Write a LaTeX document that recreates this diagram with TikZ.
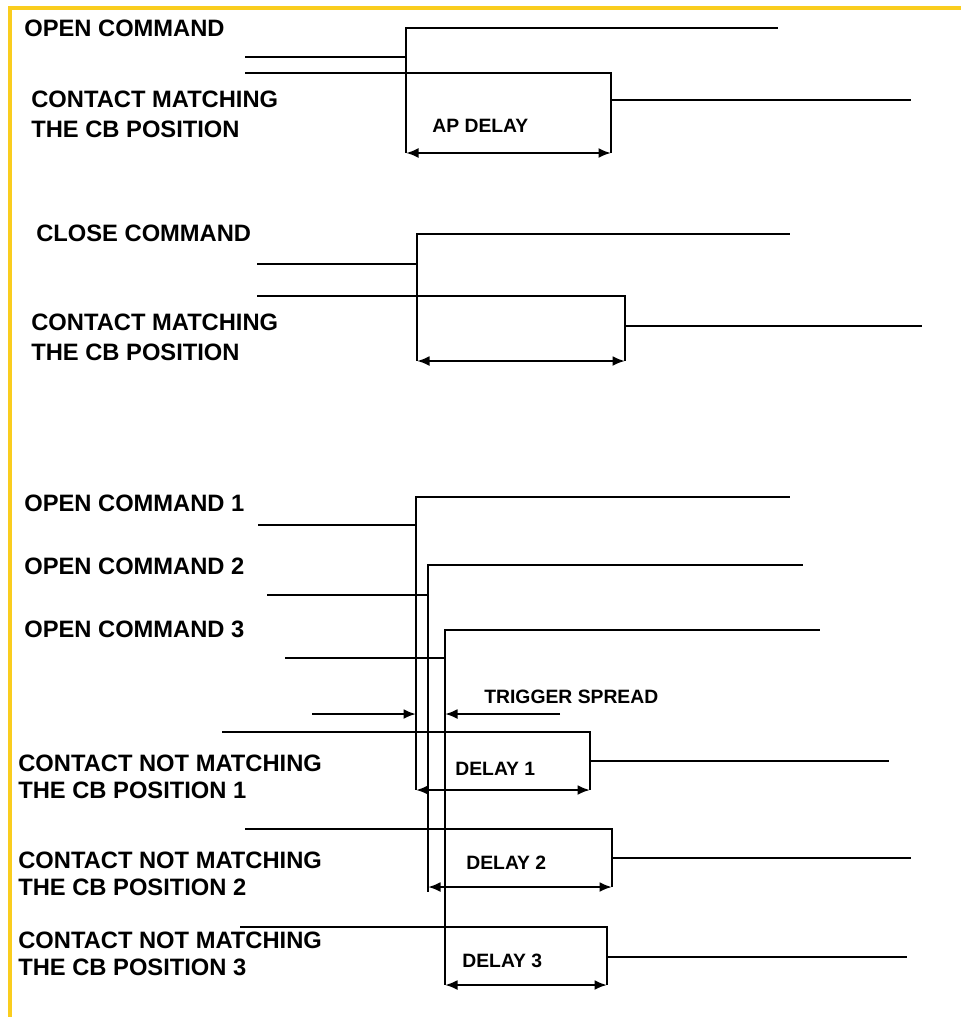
\documentclass[tikz,border=0pt]{standalone}
\usepackage{fontspec}
\setmainfont{Liberation Sans}
\usetikzlibrary{arrows.meta}
\definecolor{frameYellow}{RGB}{250,205,30}

\begin{document}
\begin{tikzpicture}[
    x=0.02cm,y=-0.02cm,
    sig/.style={line width=1.3pt,draw=black},
    span/.style={line width=1.3pt,{Latex[length=2.5mm,width=2mm]}-{Latex[length=2.5mm,width=2mm]}},
    push/.style={line width=1.3pt,-{Latex[length=2.5mm,width=2mm]}},
    lbl/.style={anchor=west,inner sep=0pt,align=left,font=\fontsize{13.5}{17}\selectfont\bfseries},
    lblnot/.style={lbl,font=\fontsize{13.5}{15.4}\selectfont\bfseries},
    tag/.style={anchor=west,inner sep=0pt,font=\fontsize{11}{13}\selectfont\bfseries}
  ]
    \useasboundingbox (0,0) rectangle (961,1017);
    \draw[frameYellow,line width=2.2pt] (10,1017) -- (10,8) -- (961,8);

    % open command / contact matching
    \node[lbl] (openLbl) at (24,28) {OPEN COMMAND};
    \node[lbl] (matchLbl) at (31,114) {CONTACT MATCHING\\THE CB POSITION};
    \coordinate (oS) at (245,57);
    \coordinate (oR) at (406,28);
    \coordinate (oE) at (778,28);
    \coordinate (mS) at (245,73);
    \coordinate (mF) at (611,100);
    \coordinate (mE) at (911,100);
    \coordinate (apA) at (406,153);
    \coordinate (apB) at (611,153);
    \draw[sig] (oS) -| (oR) -- (oE);
    \draw[sig] (mS) -| (mF) -- (mE);
    \draw[sig] (oR) -- (apA);
    \draw[sig] (mF) -- (apB);
    \draw[span] (apA) -- (apB);
    \node[tag] (apLbl) at (432,126) {AP DELAY};

    % close command / contact matching
    \node[lbl] (closeLbl) at (36,233) {CLOSE COMMAND};
    \node[lbl] (match2Lbl) at (31,337) {CONTACT MATCHING\\THE CB POSITION};
    \coordinate (cS) at (257,264);
    \coordinate (cR) at (417,234);
    \coordinate (cE) at (790,234);
    \coordinate (nS) at (257,296);
    \coordinate (nF) at (625,326);
    \coordinate (nE) at (922,326);
    \coordinate (clA) at (417,361);
    \coordinate (clB) at (625,361);
    \draw[sig] (cS) -| (cR) -- (cE);
    \draw[sig] (nS) -| (nF) -- (nE);
    \draw[sig] (cR) -- (clA);
    \draw[sig] (nF) -- (clB);
    \draw[span] (clA) -- (clB);

    % three poles
    \node[lbl] (open1Lbl) at (24,503) {OPEN COMMAND 1};
    \node[lbl] (open2Lbl) at (24,566) {OPEN COMMAND 2};
    \node[lbl] (open3Lbl) at (24,629) {OPEN COMMAND 3};
    \coordinate (p1S) at (258,525);
    \coordinate (p1R) at (416,497);
    \coordinate (p1E) at (790,497);
    \coordinate (p2S) at (267,595);
    \coordinate (p2R) at (428,565);
    \coordinate (p2E) at (803,565);
    \coordinate (p3S) at (285,658);
    \coordinate (p3R) at (445,630);
    \coordinate (p3E) at (820,630);
    \draw[sig] (p1S) -| (p1R) -- (p1E);
    \draw[sig] (p2S) -| (p2R) -- (p2E);
    \draw[sig] (p3S) -| (p3R) -- (p3E);

    % trigger spread
    \coordinate (tsL) at (312,714);
    \coordinate (tsA) at (416,714);
    \coordinate (tsR) at (560,714);
    \coordinate (tsB) at (445,714);
    \draw[push] (tsL) -- (tsA);
    \draw[push] (tsR) -- (tsB);
    \node[tag] (spreadLbl) at (484,697) {TRIGGER SPREAD};

    \node[lblnot] (not1Lbl) at (18,776.5) {CONTACT NOT MATCHING\\THE CB POSITION 1};
    \node[lblnot] (not2Lbl) at (18,873.5) {CONTACT NOT MATCHING\\THE CB POSITION 2};
    \node[lblnot] (not3Lbl) at (18,954) {CONTACT NOT MATCHING\\THE CB POSITION 3};
    \coordinate (k1S) at (222,732);
    \coordinate (k1F) at (590,761);
    \coordinate (k1E) at (889,761);
    \coordinate (k2S) at (245,829);
    \coordinate (k2F) at (612,858);
    \coordinate (k2E) at (911,858);
    \coordinate (k3S) at (240,927);
    \coordinate (k3F) at (607,957);
    \coordinate (k3E) at (907,957);
    \draw[sig] (k1S) -| (k1F) -- (k1E);
    \draw[sig] (k2S) -| (k2F) -- (k2E);
    \draw[sig] (k3S) -| (k3F) -- (k3E);

    \coordinate (d1A) at (416,790);
    \coordinate (d1B) at (590,790);
    \coordinate (d2A) at (428,887);
    \coordinate (d2B) at (612,887);
    \coordinate (p2end) at (428,892);
    \coordinate (d3A) at (445,985);
    \coordinate (d3B) at (607,985);
    \draw[sig] (p1R) -- (d1A);
    \draw[sig] (p2R) -- (p2end);
    \draw[sig] (p3R) -- (d3A);
    \draw[sig] (k1F) -- (d1B);
    \draw[sig] (k2F) -- (d2B);
    \draw[sig] (k3F) -- (d3B);
    \draw[span] (d1A) -- (d1B);
    \draw[span] (d2A) -- (d2B);
    \draw[span] (d3A) -- (d3B);
    \node[tag] (delay1Lbl) at (455,769) {DELAY 1};
    \node[tag] (delay2Lbl) at (466,863) {DELAY 2};
    \node[tag] (delay3Lbl) at (462,961) {DELAY 3};
  \end{tikzpicture}
\end{document}
